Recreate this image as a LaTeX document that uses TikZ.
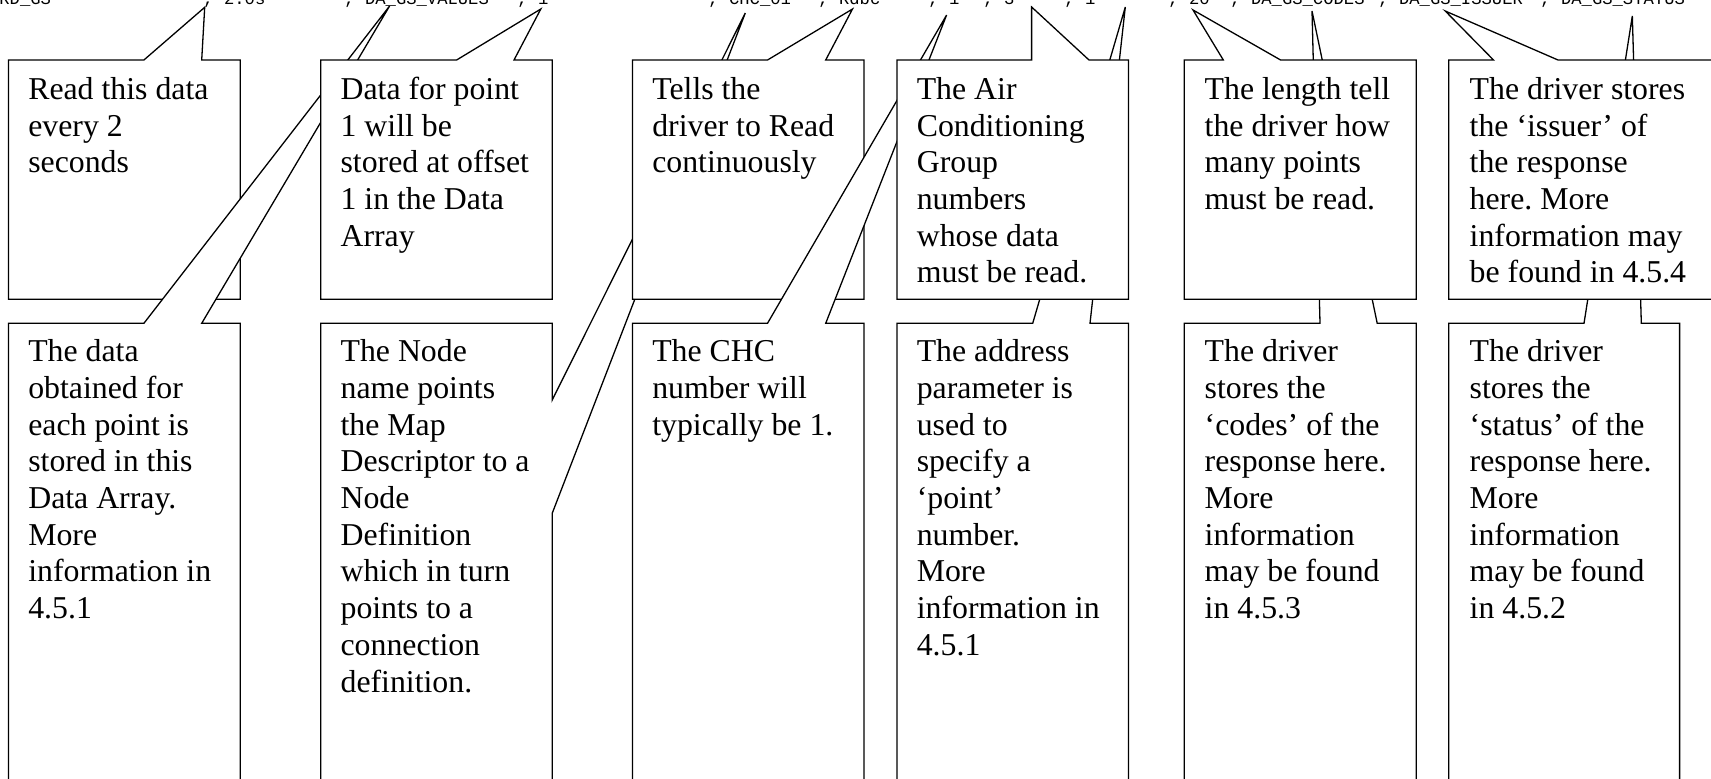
\documentclass[tikz,border=0pt]{standalone}
\usepackage{fontspec}
\setmainfont{Liberation Serif}
\newfontfamily\codefont{Liberation Mono}
\frenchspacing
\begin{document}
\begin{tikzpicture}[x=0.5pt,y=-0.5pt,
  box/.style={draw=black,fill=white,line width=0.65pt,line join=miter},
  txt/.style={anchor=north west,inner sep=0pt,align=left,font=\fontsize{15.9}{18.35}\selectfont\frenchspacing},
  code/.style={anchor=base west,inner sep=0pt,font=\codefont\fontsize{8.6}{10}\selectfont}]
\useasboundingbox (0,0) rectangle (1711,778);
\fill[white] (0,0) rectangle (1711,778);
\clip (0,0) rectangle (1711,778);

% record line (cut off at the top, as in the reference)
\node[code] (c0) at (-1,4) {RD\_GS};
\node[code] (c1) at (203,4) {, 2.0s};
\node[code] (c2) at (344,4) {, DA\_GS\_VALUES};
\node[code] (c3) at (517,4) {, 1};
\node[code] (c4) at (708,4) {, CHC\_01};
\node[code] (c5) at (818,4) {, Rdbc};
\node[code] (c6) at (928,4) {, 1};
\node[code] (c7) at (983,4) {, 3};
\node[code] (c8) at (1064,4) {, 1};
\node[code] (c9) at (1168,4) {, 20};
\node[code] (c10) at (1230,4) {, DA\_GS\_CODES};
\node[code] (c11) at (1378,4) {, DA\_GS\_ISSUER};
\node[code] (c12) at (1540,4) {, DA\_GS\_STATUS};

% T1
\draw[box] (8.4,60) -- (143.9,60) -- (204.7,7.3) -- (201.7,60) -- (240.3,60) -- (240.3,299.3) -- (8.4,299.3) -- cycle;
\node[txt] (t1) at (27.9,73.3) {\strut Read this data\\every 2\\seconds};
% B1
\draw[box] (8.4,323.3) -- (143.9,323.3) -- (389.6,6) -- (201.7,323.3) -- (240.3,323.3) -- (240.3,800) -- (8.4,800) -- cycle;
\node[txt] (b1) at (27.9,335.6) {\strut The data\\obtained for\\each point is\\stored in this\\Data Array.\\More\\information in\\4.5.1};
% T2
\draw[box] (320.7,60) -- (456.6,60) -- (540.8,9) -- (514,60) -- (552.2,60) -- (552.2,299.3) -- (320.7,299.3) -- cycle;
\node[txt] (t2) at (340.2,73.3) {\strut Data for point\\1 will be\\stored at offset\\1 in the Data\\Array};
% B2
\draw[box] (320.7,323.3) -- (552.2,323.3) -- (552.2,400) -- (745.3,13) -- (552.2,513.3) -- (552.2,800) -- (320.7,800) -- cycle;
\node[txt] (b2) at (340.2,335.6) {\strut The Node\\name points\\the Map\\Descriptor to a\\Node\\Definition\\which in turn\\points to a\\connection\\definition.};
% T3
\draw[box] (632.4,60) -- (767.5,60) -- (852.5,9) -- (825.7,60) -- (864,60) -- (864,299.3) -- (632.4,299.3) -- cycle;
\node[txt] (t3) at (651.9,73.3) {\strut Tells the\\driver to Read\\continuously};
% B3
\draw[box] (632.4,323.3) -- (767.5,323.3) -- (946.6,15) -- (825.7,323.3) -- (864,323.3) -- (864,800) -- (632.4,800) -- cycle;
\node[txt] (b3) at (651.9,335.6) {\strut The CHC\\number will\\typically be 1.};
% B4
\draw[box] (896.9,323.3) -- (1032.7,323.3) -- (1125.3,7) -- (1090,323.3) -- (1128.4,323.3) -- (1128.4,800) -- (896.9,800) -- cycle;
\node[txt] (b4) at (916.4,335.6) {\strut The address\\parameter is\\used to\\specify a\\‘point’\\number.\\More\\information in\\4.5.1};
% T4
\draw[box] (896.9,60) -- (1031.6,60) -- (1031.6,7) -- (1089,60) -- (1128.4,60) -- (1128.4,299.3) -- (896.9,299.3) -- cycle;
\node[txt] (t4) at (916.4,73.3) {\strut The Air\\Conditioning\\Group\\numbers\\whose data\\must be read.};
% B5
\draw[box] (1184.3,323.3) -- (1320,323.3) -- (1312,11) -- (1377.2,323.3) -- (1416.2,323.3) -- (1416.2,800) -- (1184.3,800) -- cycle;
\node[txt] (b5) at (1204.3,335.6) {\strut The driver\\stores the\\‘codes’ of the\\response here.\\More\\information\\may be found\\in 4.5.3};
% T5
\draw[box] (1184.3,60) -- (1223.3,60) -- (1193,10) -- (1280.6,60) -- (1416.2,60) -- (1416.2,299.3) -- (1184.3,299.3) -- cycle;
\node[txt] (t5) at (1204.3,73.3) {\strut The length tell\\the driver how\\many points\\must be read.};
% B6
\draw[box] (1448.8,323.3) -- (1584,323.3) -- (1632.3,16) -- (1641.3,323.3) -- (1679.6,323.3) -- (1679.6,800) -- (1448.8,800) -- cycle;
\node[txt] (b6) at (1469.3,335.6) {\strut The driver\\stores the\\‘status’ of the\\response here.\\More\\information\\may be found\\in 4.5.2};
% T6
\draw[box] (1448.8,60) -- (1493.5,60) -- (1445.2,11) -- (1558,60) -- (1740,60) -- (1740,299.3) -- (1448.8,299.3) -- cycle;
\node[txt] (t6) at (1469.3,73.3) {\strut The driver stores\\the ‘issuer’ of\\the response\\here. More\\information may\\be found in 4.5.4};
\end{tikzpicture}
\end{document}
